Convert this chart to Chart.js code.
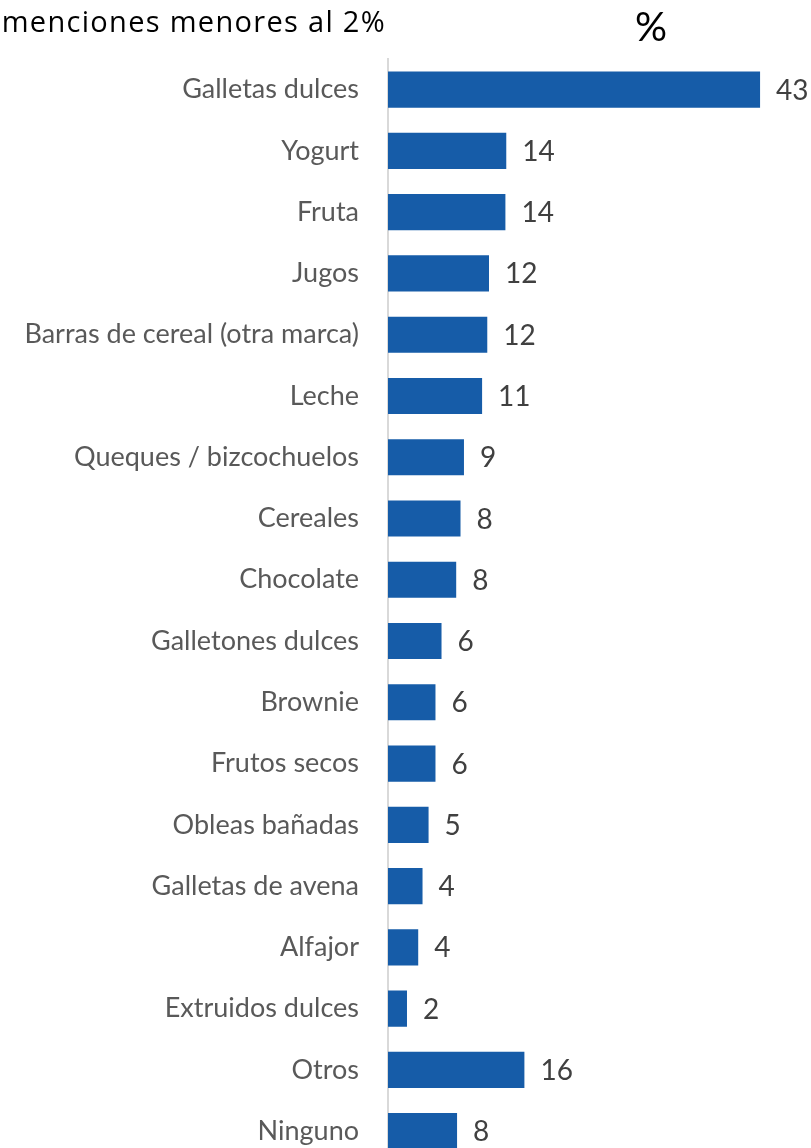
<!DOCTYPE html>
<html>
<head>
<meta charset="utf-8">
<script src="https://cdn.jsdelivr.net/npm/chart.js@4/dist/chart.umd.min.js"></script>
<style>
  html, body { margin: 0; padding: 0; background: #ffffff; overflow: hidden; }
  body { width: 811px; height: 1148px; position: relative; }
  #c { position: absolute; left: 0; top: 0; }
  .note { position: absolute; color: #000; white-space: nowrap; line-height: 1; z-index: 2; }
  #subtitle { right: 425px; top: 6px; font-size: 29px; letter-spacing: 1.3px; font-family: "Open Sans", Lato, sans-serif; }
  #unit { left: 635px; top: 6px; font-size: 40px; font-family: Lato, "Noto Sans", sans-serif; }
</style>
</head>
<body>
<div id="subtitle" class="note">menciones menores al 2%</div>
<div id="unit" class="note">%</div>
<canvas id="c" width="811" height="1207"></canvas>
<script>
const categories = [
  "Galletas dulces", "Yogurt", "Fruta", "Jugos", "Barras de cereal (otra marca)",
  "Leche", "Queques / bizcochuelos", "Cereales", "Chocolate", "Galletones dulces",
  "Brownie", "Frutos secos", "Obleas bañadas", "Galletas de avena", "Alfajor",
  "Extruidos dulces", "Otros", "Ninguno"
];
const values = [43.1, 13.7, 13.6, 11.7, 11.5, 10.9, 8.8, 8.4, 7.9, 6.2, 5.5, 5.5, 4.7, 4.0, 3.5, 2.2, 15.8, 8.0];
const valueLabels = ["43", "14", "14", "12", "12", "11", "9", "8", "8", "6", "6", "6", "5", "4", "4", "2", "16", "8"];

const labelPlugin = {
  id: 'valueLabels',
  afterDatasetsDraw(chart) {
    const ctx = chart.ctx;
    const meta = chart.getDatasetMeta(0);
    ctx.save();
    ctx.font = '28px Lato, "Noto Sans", sans-serif';
    ctx.fillStyle = '#404040';
    ctx.textAlign = 'left';
    ctx.textBaseline = 'middle';
    meta.data.forEach((bar, i) => {
      ctx.fillText(valueLabels[i], bar.x + 16, bar.y + 1);
    });
    ctx.restore();
  }
};

new Chart(document.getElementById('c'), {
  type: 'bar',
  data: {
    labels: categories,
    datasets: [{
      data: values,
      backgroundColor: '#165CA8',
      borderWidth: 0,
      barPercentage: 0.59,
      categoryPercentage: 1
    }]
  },
  options: {
    indexAxis: 'y',
    responsive: false,
    maintainAspectRatio: false,
    animation: false,
    devicePixelRatio: 1,
    layout: { padding: { top: 59, right: 0, bottom: 0, left: 0 } },
    plugins: { legend: { display: false }, tooltip: { enabled: false } },
    scales: {
      x: { display: false, min: 0, max: 49 },
      y: {
        afterFit(scale) { scale.width = 388; },
        grid: { display: false, drawTicks: false },
        border: { display: true, color: '#d9d9d9', width: 2 },
        ticks: {
          padding: 29,
          color: '#595959',
          font: { family: 'Lato, "Noto Sans", sans-serif', size: 27 }
        }
      }
    }
  },
  plugins: [labelPlugin]
});
</script>
</body>
</html>
